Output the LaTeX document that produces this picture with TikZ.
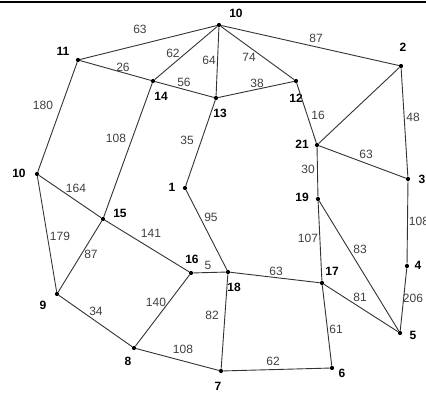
\documentclass[tikz,border=0pt]{standalone}
\usepackage{fontspec}
\setmainfont{Liberation Sans}
\begin{document}
\begin{tikzpicture}[x=1pt,y=-1pt,
  vtx/.style={circle,fill=black,inner sep=0pt,minimum size=4.2pt},
  vlab/.style={font=\fontsize{12}{14}\selectfont\bfseries,text=black,inner sep=0pt},
  elab/.style={font=\fontsize{12}{14}\selectfont,text=black!75,inner sep=0pt},
  edge/.style={draw=black!80,line width=0.9pt}]
\useasboundingbox (0,0) rectangle (426,395);
\fill[white] (0,0) rectangle (426,395);
\draw[line width=2.6pt] (0,2) -- (426,2);
% vertices
\node[vtx] (v10a) at (219,25) {};
\node[vtx] (v2) at (401,66) {};
\node[vtx] (v12) at (296,81) {};
\node[vtx] (v13) at (216,98) {};
\node[vtx] (v21) at (317,145) {};
\node[vtx] (v3) at (408,179) {};
\node[vtx] (v19) at (318,199) {};
\node[vtx] (v11) at (78,60) {};
\node[vtx] (v14) at (153,81) {};
\node[vtx] (v10b) at (37,174) {};
\node[vtx] (v1) at (185,188) {};
\node[vtx] (v15) at (103,219) {};
\node[vtx] (v16) at (191,273) {};
\node[vtx] (v9) at (57,294) {};
\node[vtx] (v8) at (134,348) {};
\node[vtx] (v7) at (221,371) {};
\node[vtx] (v18) at (228,272) {};
\node[vtx] (v17) at (322,283) {};
\node[vtx] (v6) at (332,368) {};
\node[vtx] (v5) at (400,333) {};
\node[vtx] (v4) at (407,266) {};
% vertex labels
\node[vlab] (l10a) at (236,13) {10};
\node[vlab] (l2) at (403,47) {2};
\node[vlab] (l12) at (296,98) {12};
\node[vlab] (l13) at (220,113) {13};
\node[vlab] (l21) at (302,144) {21};
\node[vlab] (l3) at (422,179) {3};
\node[vlab] (l19) at (302,197) {19};
\node[vlab] (l11) at (63,51) {11};
\node[vlab] (l14) at (161,96) {14};
\node[vlab] (l10b) at (19,173) {10};
\node[vlab] (l1) at (172,187) {1};
\node[vlab] (l15) at (120,213) {15};
\node[vlab] (l16) at (192,259) {16};
\node[vlab] (l9) at (43,305) {9};
\node[vlab] (l8) at (128,361) {8};
\node[vlab] (l7) at (218,386) {7};
\node[vlab] (l18) at (234,287) {18};
\node[vlab] (l17) at (332,271) {17};
\node[vlab] (l6) at (342,373) {6};
\node[vlab] (l5) at (413,335) {5};
\node[vlab] (l4) at (418,265) {4};
% edges
\draw[edge] (v10a) -- (v11);
\draw[edge] (v10a) -- (v14);
\draw[edge] (v10a) -- (v13);
\draw[edge] (v10a) -- (v12);
\draw[edge] (v10a) -- (v2);
\draw[edge] (v11) -- (v14);
\draw[edge] (v14) -- (v13);
\draw[edge] (v13) -- (v12);
\draw[edge] (v12) -- (v21);
\draw[edge] (v2) -- (v21);
\draw[edge] (v2) -- (v3);
\draw[edge] (v21) -- (v3);
\draw[edge] (v21) -- (v19);
\draw[edge] (v11) -- (v10b);
\draw[edge] (v14) -- (v15);
\draw[edge] (v13) -- (v1);
\draw[edge] (v10b) -- (v15);
\draw[edge] (v10b) -- (v9);
\draw[edge] (v15) -- (v9);
\draw[edge] (v15) -- (v16);
\draw[edge] (v1) -- (v18);
\draw[edge] (v16) -- (v18);
\draw[edge] (v9) -- (v8);
\draw[edge] (v8) -- (v16);
\draw[edge] (v8) -- (v7);
\draw[edge] (v18) -- (v7);
\draw[edge] (v18) -- (v17);
\draw[edge] (v7) -- (v6);
\draw[edge] (v19) -- (v17);
\draw[edge] (v19) -- (v5);
\draw[edge] (v17) -- (v5);
\draw[edge] (v17) -- (v6);
\draw[edge] (v3) -- (v4);
\draw[edge] (v4) -- (v5);
% edge labels
\node[elab] (w1) at (140,29) {63};
\node[elab] (w2) at (173,53) {62};
\node[elab] (w3) at (209,60) {64};
\node[elab] (w4) at (249,57) {74};
\node[elab] (w5) at (316,38) {87};
\node[elab] (w6) at (123,67) {26};
\node[elab] (w7) at (184,82) {56};
\node[elab] (w8) at (257,83) {38};
\node[elab] (w9) at (318,115) {16};
\node[elab] (w10) at (413,117) {48};
\node[elab] (w11) at (366,154) {63};
\node[elab] (w12) at (308,169) {30};
\node[elab] (w13) at (43,105) {180};
\node[elab] (w14) at (116,138) {108};
\node[elab] (w15) at (187,140) {35};
\node[elab] (w16) at (76,188) {164};
\node[elab] (w17) at (60,236) {179};
\node[elab] (w18) at (91,254) {87};
\node[elab] (w19) at (151,233) {141};
\node[elab] (w20) at (211,217) {95};
\node[elab] (w21) at (208,265) {5};
\node[elab] (w22) at (96,311) {34};
\node[elab] (w23) at (156,302) {140};
\node[elab] (w24) at (183,349) {108};
\node[elab] (w25) at (212,315) {82};
\node[elab] (w26) at (276,271) {63};
\node[elab] (w27) at (273,361) {62};
\node[elab] (w28) at (308,238) {107};
\node[elab] (w29) at (360,249) {83};
\node[elab] (w30) at (360,297) {81};
\node[elab] (w31) at (336,329) {61};
\node[elab] (w32) at (419,221) {108};
\node[elab] (w33) at (413,298) {206};
\end{tikzpicture}
\end{document}
